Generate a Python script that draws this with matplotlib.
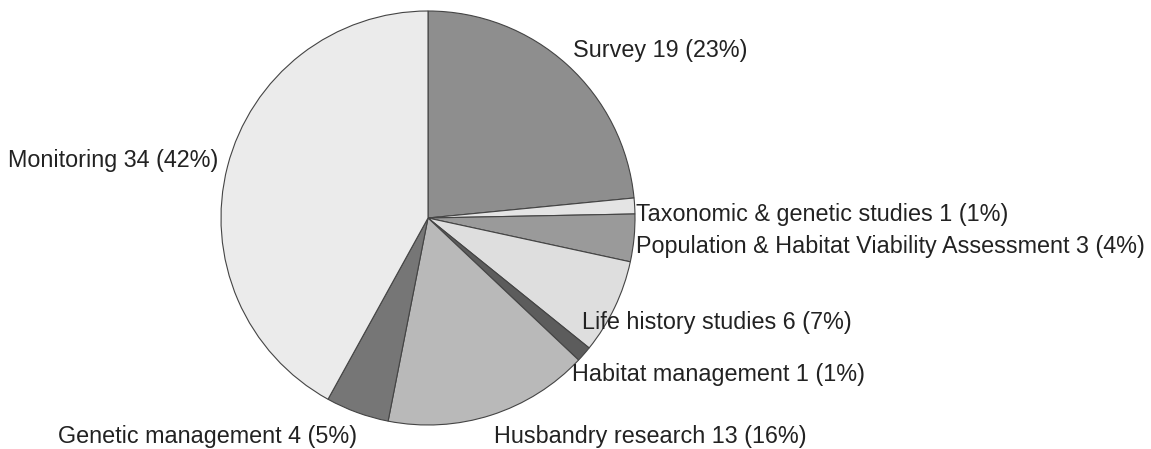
import matplotlib
matplotlib.use('Agg')
import matplotlib.pyplot as plt

# project counts by category (clockwise from 12 o'clock)
categories = ['Survey', 'Taxonomic & genetic studies', 'Population & Habitat Viability Assessment',
              'Life history studies', 'Habitat management', 'Husbandry research',
              'Genetic management', 'Monitoring']
counts = [19, 1, 3, 6, 1, 13, 4, 34]
percents = [23, 1, 4, 7, 1, 16, 5, 42]

colors = ['#8e8e8e', '#e4e4e4', '#9a9a9a', '#dedede', '#5c5c5c', '#b9b9b9', '#767676', '#ebebeb']
# label anchor (left edge x, center y) in pixels
label_pos = [(573, 50), (636, 215), (636, 246), (582, 322), (572, 374), (494, 436), (58, 437), (8, 160)]

plt.rcParams['font.family'] = ['Liberation Sans', 'DejaVu Sans']

W, H = 1151, 449
fig = plt.figure(figsize=(W/100, H/100), dpi=100)
cx, cy, r = 428, 218, 207
ax = fig.add_axes([(cx-r)/W, (H-cy-r)/H, 2*r/W, 2*r/H])
ax.pie(counts, colors=colors, startangle=90, counterclock=False,
       wedgeprops=dict(edgecolor='#444444', linewidth=0.8))
ax.set_xlim(-1.0, 1.0)
ax.set_ylim(-1.0, 1.0)
ax.set_aspect('equal')

for cat, n, p, (x, y) in zip(categories, counts, percents, label_pos):
    fig.text(x/W, 1 - y/H, f'{cat} {n} ({p}%)', ha='left', va='center',
             fontsize=16.8, color='#222222')

fig.savefig('out.png', dpi=100)
